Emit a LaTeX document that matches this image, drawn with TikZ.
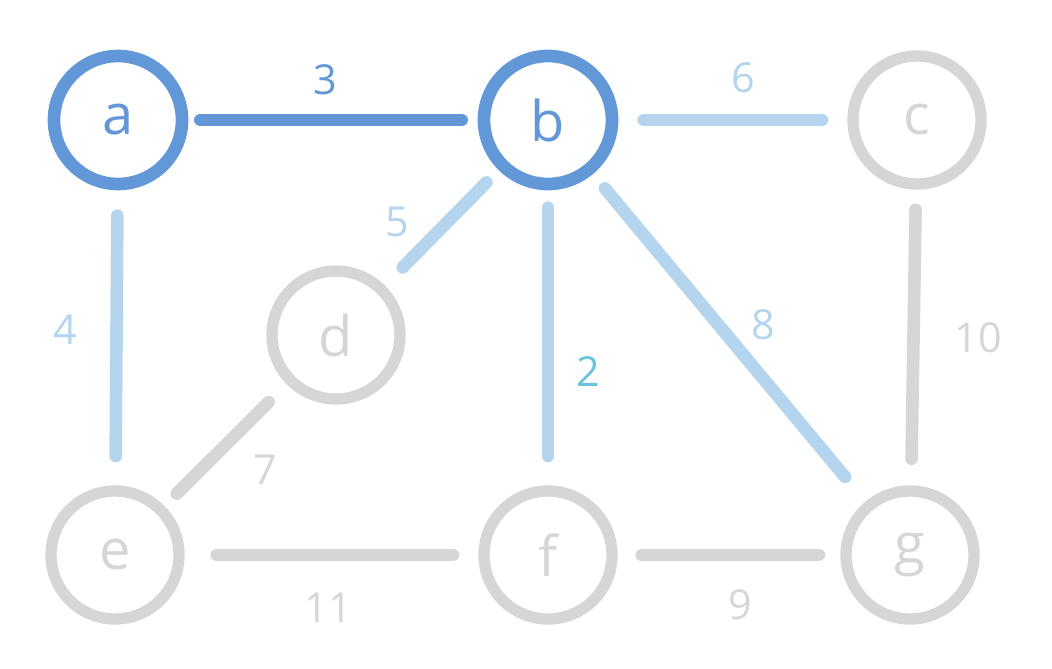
\documentclass[tikz,border=0pt]{standalone}
\usepackage{fontspec}
\setmainfont{Open Sans}
\definecolor{dblue}{HTML}{6398D8}
\definecolor{lblue}{HTML}{B5D5EE}
\definecolor{lgray}{HTML}{D6D6D6}
\definecolor{teal2}{HTML}{6AC3DC}
\begin{document}
\begin{tikzpicture}[x=0.75pt,y=-0.75pt,
  vert/.style={circle,draw=#1,text=#1,line width=9.5pt,minimum size=96pt,inner sep=0pt,
    font=\fontsize{42}{42}\selectfont},
  gvert/.style={vert=lgray,line width=8.5pt},
  edge/.style={draw=#1,line width=9.5pt,line cap=round},
  wlabel/.style={text=#1,font=\fontsize{31}{31}\selectfont,inner sep=0pt}]
\useasboundingbox (0,0) rectangle (1052,668);
% nodes
\node[vert=dblue] (a) at (118,120) {a};
\node[vert=dblue] (b) at (548,120) {b};
\node[gvert] (c) at (917,120) {c};
\node[gvert] (d) at (336,335) {d};
\node[gvert] (e) at (115,555) {e};
\node[gvert] (f) at (548,555) {f};
\node[gvert] (g) at (910,555) {g};
% edges
\draw[edge=dblue,shorten <=9pt,shorten >=12pt] (a) -- (b);
\draw[edge=lblue,shorten <=19pt,shorten >=19pt] (b) -- (c);
\draw[edge=lblue,shorten <=19pt,shorten >=22pt] (a) -- (e);
\draw[edge=lblue,shorten <=13pt,shorten >=19pt] (b) -- (d);
\draw[edge=lblue,shorten <=13pt,shorten >=22pt] (b) -- (f);
\draw[edge=lblue,shorten <=14pt,shorten >=24pt] (b) -- (g);
\draw[edge=lgray,shorten <=15pt,shorten >=20pt] (c) -- (g);
\draw[edge=lgray,shorten <=19pt,shorten >=13pt] (d) -- (e);
\draw[edge=lgray,shorten <=24pt,shorten >=19pt] (e) -- (f);
\draw[edge=lgray,shorten <=18pt,shorten >=16pt] (f) -- (g);
% weights
\node[wlabel=dblue] (w3) at (325,80) {3};
\node[wlabel=lblue] (w6) at (743,78) {6};
\node[wlabel=lblue] (w5) at (397,222) {5};
\node[wlabel=lblue] (w4) at (65,330) {4};
\node[wlabel=lblue] (w8) at (763,325) {8};
\node[wlabel=teal2] (w2) at (588,372) {2};
\node[wlabel=lgray] (w10) at (978,338) {10};
\node[wlabel=lgray] (w7) at (265,470) {7};
\node[wlabel=lgray] (w11) at (328,608) {11};
\node[wlabel=lgray] (w9) at (740,605) {9};
\end{tikzpicture}
\end{document}
